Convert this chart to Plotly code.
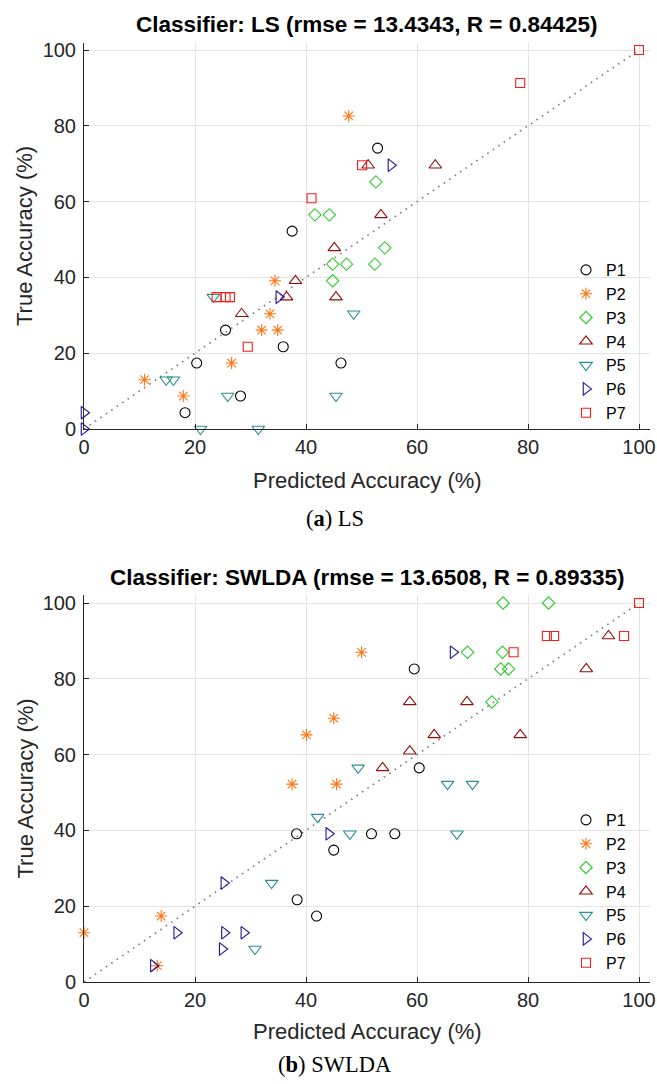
import plotly.graph_objects as go

W, H = 657, 1084

names = ["P1", "P2", "P3", "P4", "P5", "P6", "P7"]
colors = ["#000000", "#FF7410", "#2DCC2D", "#8E1010", "#2A9090", "#21139C", "#FF1A1A"]
symbols = ["circle-open", "asterisk-open", "diamond-open", "triangle-up-open",
           "triangle-down-open", "triangle-right-open", "square-open"]
sizes = [10, 10, 9.5, 11, 11, 11, 9]

tick_vals = [0, 20, 40, 60, 80, 100]
tick_text = ["0", "20", "40", "60", "80", "100"]

# Classifier LS
ls_x = {
    "P1": [52.9, 37.5, 25.5, 20.3, 35.9, 46.3, 28.2, 18.2],
    "P2": [47.7, 34.4, 33.5, 32.0, 34.9, 26.6, 10.9, 17.9],
    "P3": [41.6, 44.2, 52.6, 44.8, 47.3, 44.8, 52.4, 54.2],
    "P4": [51.2, 63.3, 53.5, 45.1, 38.1, 36.5, 45.4, 28.4],
    "P5": [23.3, 14.8, 16.1, 25.9, 45.4, 48.6, 21.0, 31.4],
    "P6": [0.0, 0.0, 35.1, 55.3],
    "P7": [100.0, 78.6, 50.1, 41.0, 23.9, 25.5, 26.3, 29.5],
}
ls_y = {
    "P1": [74.1, 52.2, 26.1, 17.4, 21.7, 17.4, 8.7, 4.3],
    "P2": [82.6, 39.1, 30.4, 26.1, 26.1, 17.4, 13.0, 8.7],
    "P3": [56.5, 56.5, 65.2, 43.5, 43.5, 39.1, 43.5, 47.8],
    "P4": [69.6, 69.6, 56.5, 47.8, 39.1, 34.8, 34.8, 30.4],
    "P5": [34.8, 13.0, 13.0, 8.7, 8.7, 30.4, 0.0, 0.0],
    "P6": [4.3, 0.0, 34.8, 69.6],
    "P7": [100.0, 91.3, 69.6, 60.9, 34.8, 34.8, 34.8, 21.7],
}

# Classifier SWLDA
sw_x = {
    "P1": [38.3, 51.8, 56.0, 45.0, 38.4, 41.9, 60.4, 59.5],
    "P2": [50.0, 45.0, 40.1, 37.5, 45.5, 13.9, 13.2, 0.0],
    "P3": [75.5, 83.7, 69.1, 75.4, 75.1, 76.5, 73.5],
    "P4": [94.5, 90.5, 69.0, 58.7, 78.6, 63.1, 58.7, 53.8],
    "P5": [49.4, 42.1, 47.9, 33.8, 30.8, 65.5, 70.0, 67.2],
    "P6": [25.2, 44.1, 16.7, 25.3, 28.8, 24.9, 12.5, 66.5],
    "P7": [100.0, 83.4, 84.7, 97.3, 77.4],
}
sw_y = {
    "P1": [39.1, 39.1, 39.1, 34.8, 21.7, 17.4, 56.5, 82.6],
    "P2": [87.0, 69.6, 65.2, 52.2, 52.2, 17.4, 4.3, 13.0],
    "P3": [100.0, 100.0, 87.0, 87.0, 82.6, 82.6, 73.9],
    "P4": [91.3, 82.6, 73.9, 73.9, 65.2, 65.2, 60.9, 56.5],
    "P5": [56.5, 43.5, 39.1, 26.1, 8.7, 52.2, 52.2, 39.1],
    "P6": [26.1, 39.1, 13.0, 13.0, 13.0, 8.7, 4.3, 87.0],
    "P7": [100.0, 91.3, 91.3, 91.3, 87.0],
}

diag = [0, 100]

titles = ["Classifier: LS (rmse = 13.4343, R = 0.84425)",
          "Classifier: SWLDA (rmse = 13.6508, R = 0.89335)"]
captions = ["(<b>a</b>) LS", "(<b>b</b>) SWLDA"]
xlabel = "Predicted Accuracy (%)"
ylabel = "True Accuracy (%)"

SANS = "Liberation Sans, Arial, Helvetica, sans-serif"
SERIF = "Liberation Serif, DejaVu Serif, serif"
TXT = "#262626"


def px(x):
    return x / W


def py(y):
    return 1 - y / H


# panel geometry in pixels: (left, right, top, bottom)
panels = [(84, 650, 43, 429), (84, 650, 595, 982)]
xmax = (650 - 84) / 5.55
ymaxs = [(429 - 43) / 3.79, (982 - 595) / 3.79]

fig = go.Figure()
datasets = [(ls_x, ls_y), (sw_x, sw_y)]
for i, (dx, dy) in enumerate(datasets):
    xa = "x" if i == 0 else "x2"
    ya = "y" if i == 0 else "y2"
    lg = "legend" if i == 0 else "legend2"
    fig.add_trace(go.Scatter(x=diag, y=diag, mode="lines", xaxis=xa, yaxis=ya,
                             line=dict(color="#7a7a7a", width=1.6, dash="1.6px,5px"),
                             showlegend=False, hoverinfo="skip"))
    for k, n in enumerate(names):
        fig.add_trace(go.Scatter(
            x=dx[n], y=dy[n], mode="markers", name=n, xaxis=xa, yaxis=ya, legend=lg,
            cliponaxis=False,
            marker=dict(symbol=symbols[k], size=sizes[k], color=colors[k],
                        line=dict(color=colors[k], width=1.1))))

layout = dict(width=W, height=H, margin=dict(l=0, r=0, t=0, b=0, autoexpand=False),
              paper_bgcolor="white", plot_bgcolor="white", showlegend=True,
              font=dict(family=SANS, color=TXT))

for i, (l, r, t, b) in enumerate(panels):
    sfx = "" if i == 0 else "2"
    common = dict(showgrid=True, gridcolor="#E3E3E3", gridwidth=1, zeroline=False,
                  showline=True, linecolor=TXT, linewidth=1, mirror=False,
                  ticks="inside", ticklen=5, tickwidth=1, tickcolor=TXT,
                  tickvals=tick_vals, ticktext=tick_text, automargin=False,
                  tickfont=dict(family=SANS, size=20, color=TXT))
    layout["xaxis" + sfx] = dict(common, domain=[px(l), px(r)], range=[0, xmax],
                                 anchor="y" + sfx)
    layout["yaxis" + sfx] = dict(common, domain=[py(b), py(t)], range=[0, ymaxs[i]],
                                 anchor="x" + sfx, ticklabelstandoff=3)

layout["legend"] = dict(x=px(566), y=py(253), xanchor="left", yanchor="top",
                        bgcolor="rgba(0,0,0,0)", font=dict(family=SANS, size=16, color="#000"),
                        tracegroupgap=0)
layout["legend2"] = dict(x=px(566), y=py(803), xanchor="left", yanchor="top",
                         bgcolor="rgba(0,0,0,0)", font=dict(family=SANS, size=16, color="#000"),
                         tracegroupgap=0)

ann = []
title_y = [25, 577]
xlab_y = [480, 1031]
cap_y = [518, 1064]
for i, (l, r, t, b) in enumerate(panels):
    ann.append(dict(text="<b>" + titles[i] + "</b>", x=px(367), y=py(title_y[i]),
                    xref="paper", yref="paper", showarrow=False, xanchor="center",
                    yanchor="middle", font=dict(family=SANS, size=22.5, color="#000")))
    ann.append(dict(text=xlabel, x=px(367), y=py(xlab_y[i]), xref="paper", yref="paper",
                    showarrow=False, xanchor="center", yanchor="middle",
                    font=dict(family=SANS, size=22, color=TXT)))
    ann.append(dict(text=ylabel, x=px(25), y=py((t + b) / 2), xref="paper", yref="paper",
                    showarrow=False, xanchor="center", yanchor="middle", textangle=-90,
                    font=dict(family=SANS, size=22, color=TXT)))
    ann.append(dict(text=captions[i], x=px(335), y=py(cap_y[i]), xref="paper", yref="paper",
                    showarrow=False, xanchor="center", yanchor="middle",
                    font=dict(family=SERIF, size=22.5, color="#000")))
layout["annotations"] = ann

fig.update_layout(layout)
fig.write_html("out.html", config={"displayModeBar": False})

# remove the browser's default page margin so the figure sits at the window origin
with open("out.html", "r", encoding="utf-8") as f:
    html = f.read()
html = html.replace("<head>", "<head><style>html,body{margin:0;padding:0;overflow:hidden;}</style>", 1)
with open("out.html", "w", encoding="utf-8") as f:
    f.write(html)
